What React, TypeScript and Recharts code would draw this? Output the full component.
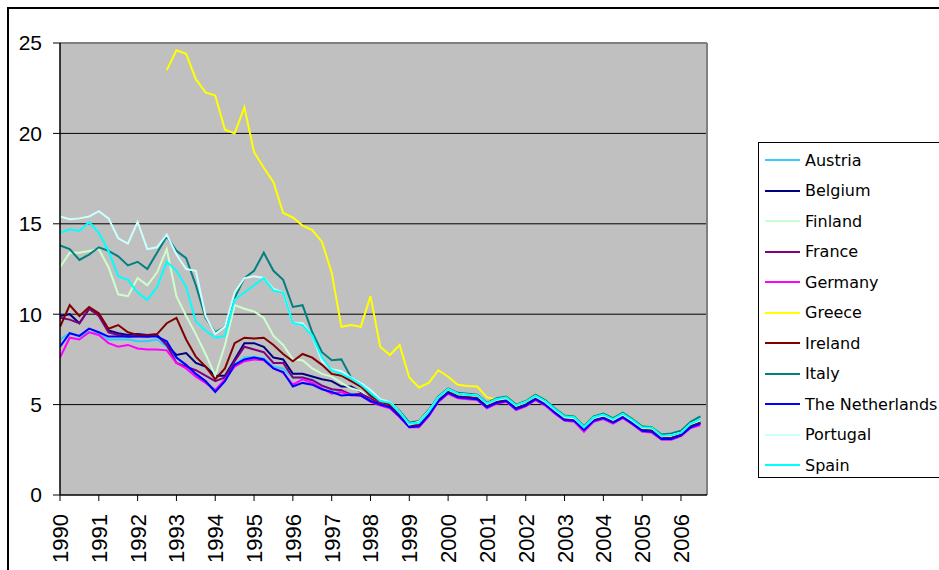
import { LineChart, Line, XAxis, YAxis, CartesianGrid, ReferenceLine } from "recharts";

// 10-year government bond yields, quarterly readings (1990 Q1 .. 2006 Q3)
const austria = [8.6, 8.95, 8.76, 9.0, 8.95, 8.6, 8.6, 8.6, 8.5, 8.5, 8.6, 8.2, 7.6, 7.1, 6.7, 6.3, 5.8, 6.3, 7.2, 7.6, 7.65, 7.55, 7.1, 7.0, 6.5, 6.5, 6.4, 6.05, 5.85, 5.7, 5.6, 5.5, 5.3, 5.05, 4.9, 4.4, 3.85,
  3.9, 4.5, 5.3, 5.75, 5.5, 5.45, 5.4, 4.95, 5.2, 5.3, 4.85, 5.05, 5.4, 5.1, 4.65, 4.25, 4.2, 3.65, 4.2, 4.35, 4.1, 4.4, 4.05, 3.65, 3.6, 3.2, 3.2, 3.35, 3.85, 4.05];
const belgium = [9.9, 10.0, 9.5, 10.3, 9.95, 9.1, 8.95, 8.85, 8.9, 8.85, 8.85, 8.3, 7.75, 7.85, 7.3, 7.1, 6.6, 6.6, 7.5, 8.4, 8.4, 8.2, 7.6, 7.5, 6.7, 6.7, 6.55, 6.4, 6.3, 6.0, 6.0, 5.7, 5.4, 5.1, 4.95, 4.45, 3.85,
  3.95, 4.55, 5.35, 5.8, 5.55, 5.5, 5.45, 5.0, 5.25, 5.35, 4.9, 5.1, 5.45, 5.15, 4.7, 4.3, 4.25, 3.7, 4.25, 4.4, 4.15, 4.45, 4.1, 3.7, 3.65, 3.2, 3.25, 3.4, 3.9, 4.1];
const finland = [12.6, 13.4, 13.4, 13.5, 13.6, 12.6, 11.1, 11.0, 12.0, 11.6, 12.3, 13.6, 11.0, 9.9, 8.9, 7.8, 6.6, 8.3, 10.5, 10.3, 10.15, 9.8, 8.8, 8.3, 7.5, 7.45, 7.0, 6.7, 6.55, 6.2, 5.9, 5.75, 5.35, 5.1, 5.0, 4.5, 3.9,
  3.95, 4.55, 5.3, 5.75, 5.5, 5.45, 5.4, 4.95, 5.2, 5.3, 4.85, 5.1, 5.4, 5.1, 4.65, 4.25, 4.2, 3.7, 4.2, 4.35, 4.1, 4.4, 4.05, 3.65, 3.6, 3.2, 3.25, 3.4, 3.85, 4.05];
const france = [9.8, 9.7, 9.5, 10.3, 9.9, 9.0, 8.85, 8.75, 8.8, 8.75, 8.85, 8.3, 7.3, 7.1, 6.9, 6.6, 6.3, 6.5, 7.4, 8.2, 8.05, 7.9, 7.3, 7.3, 6.5, 6.5, 6.35, 6.05, 5.85, 5.8, 5.55, 5.6, 5.35, 5.05, 4.9, 4.4, 3.85,
  3.85, 4.45, 5.25, 5.7, 5.45, 5.4, 5.35, 4.9, 5.15, 5.25, 4.8, 5.0, 5.35, 5.05, 4.6, 4.2, 4.15, 3.6, 4.15, 4.3, 4.05, 4.35, 4.0, 3.6, 3.55, 3.15, 3.15, 3.35, 3.8, 4.0];
const germany = [7.6, 8.7, 8.6, 9.0, 8.85, 8.4, 8.2, 8.3, 8.1, 8.05, 8.05, 8.0, 7.3, 7.0, 6.55, 6.2, 5.8, 6.4, 7.1, 7.4, 7.5, 7.45, 7.0, 6.75, 6.1, 6.4, 6.2, 5.9, 5.6, 5.7, 5.5, 5.5, 5.15, 4.95, 4.8, 4.3, 3.75,
  3.75, 4.35, 5.15, 5.6, 5.35, 5.3, 5.25, 4.8, 5.05, 5.15, 4.7, 4.9, 5.25, 4.95, 4.5, 4.1, 4.05, 3.5, 4.05, 4.2, 3.95, 4.25, 3.9, 3.5, 3.45, 3.05, 3.05, 3.25, 3.7, 3.85];
const greece = [null, null, null, null, null, null, null, null, null, null, null, 23.5, 24.6, 24.4, 23.0, 22.27, 22.1, 20.2, 20.0, 21.44, 18.97, 18.1, 17.3, 15.6, 15.35, 14.9, 14.65, 14.0, 12.3, 9.3, 9.4, 9.3, 11.0, 8.2, 7.74, 8.3, 6.5,
  5.95, 6.2, 6.9, 6.54, 6.1, 6.03, 6.0, 5.4, 5.3, 5.45, 5.0, 5.2, 5.55, 5.25, 4.8, 4.4, 4.35, 3.8, 4.35, 4.5, 4.25, 4.55, 4.2, 3.8, 3.75, 3.3, 3.35, 3.55, 4.0, 4.2];
const ireland = [9.3, 10.5, 9.9, 10.4, 10.05, 9.2, 9.4, 9.0, 8.85, 8.85, 8.9, 9.5, 9.8, 8.6, 7.65, 7.1, 6.4, 7.0, 8.4, 8.7, 8.65, 8.7, 8.3, 7.8, 7.4, 7.8, 7.6, 7.2, 6.7, 6.6, 6.3, 6.0, 5.5, 5.15, 5.0, 4.45, 3.85,
  3.85, 4.45, 5.25, 5.7, 5.45, 5.4, 5.35, 4.9, 5.1, 5.25, 4.8, 5.0, 5.4, 5.1, 4.65, 4.2, 4.15, 3.6, 4.15, 4.3, 4.05, 4.35, 3.95, 3.6, 3.55, 3.1, 3.15, 3.3, 3.8, 4.0];
const italy = [13.8, 13.6, 13.0, 13.3, 13.7, 13.5, 13.2, 12.7, 12.9, 12.5, 13.4, 14.3, 13.5, 13.1, 11.6, 9.8, 9.0, 9.3, 10.9, 12.0, 12.4, 13.4, 12.4, 11.9, 10.4, 10.5, 9.0, 7.9, 7.45, 7.5, 6.5, 6.2, 5.6, 5.25, 5.15, 4.65, 4.0,
  4.1, 4.7, 5.45, 5.9, 5.65, 5.6, 5.55, 5.1, 5.35, 5.45, 5.0, 5.2, 5.55, 5.25, 4.8, 4.4, 4.35, 3.8, 4.35, 4.5, 4.25, 4.55, 4.2, 3.8, 3.75, 3.35, 3.4, 3.55, 4.05, 4.35];
const netherlands = [8.2, 8.95, 8.8, 9.2, 9.0, 8.76, 8.76, 8.76, 8.76, 8.76, 8.76, 8.5, 7.6, 7.2, 6.7, 6.3, 5.7, 6.3, 7.2, 7.5, 7.6, 7.5, 7.0, 6.8, 6.0, 6.2, 6.1, 5.85, 5.7, 5.5, 5.55, 5.5, 5.2, 5.0, 4.85, 4.35, 3.75,
  3.8, 4.4, 5.2, 5.65, 5.4, 5.35, 5.3, 4.85, 5.1, 5.2, 4.75, 4.95, 5.3, 5.0, 4.55, 4.15, 4.1, 3.6, 4.1, 4.25, 4.0, 4.3, 3.95, 3.55, 3.5, 3.1, 3.1, 3.3, 3.75, 3.95];
const portugal = [15.4, 15.25, 15.3, 15.4, 15.7, 15.3, 14.2, 13.9, 15.1, 13.6, 13.7, 14.4, 13.3, 12.5, 12.4, 9.9, 8.9, 9.3, 11.2, 12.0, 12.1, 12.0, 11.4, 11.2, 9.5, 9.5, 8.8, 7.4, 6.95, 6.85, 6.5, 6.2, 5.8, 5.3, 5.15, 4.6, 3.9,
  4.05, 4.65, 5.4, 5.85, 5.6, 5.55, 5.5, 5.05, 5.3, 5.35, 4.95, 5.15, 5.45, 5.15, 4.7, 4.3, 4.25, 3.75, 4.25, 4.4, 4.15, 4.45, 4.1, 3.7, 3.7, 3.25, 3.3, 3.45, 3.95, 4.15];
const spain = [14.5, 14.7, 14.6, 15.1, 14.5, 13.5, 12.1, 11.9, 11.2, 10.8, 11.5, 12.9, 12.4, 11.5, 9.6, 9.1, 8.7, 8.8, 10.8, 11.2, 11.6, 12.0, 11.3, 11.2, 9.5, 9.4, 8.8, 7.6, 6.9, 6.7, 6.45, 6.1, 5.65, 5.2, 5.1, 4.55, 3.95,
  4.0, 4.6, 5.4, 5.85, 5.6, 5.55, 5.5, 5.05, 5.3, 5.4, 4.95, 5.15, 5.5, 5.2, 4.75, 4.35, 4.3, 3.75, 4.3, 4.45, 4.2, 4.5, 4.15, 3.75, 3.72, 3.28, 3.3, 3.45, 3.95, 4.2];

const YEARS = [1990, 1991, 1992, 1993, 1994, 1995, 1996, 1997, 1998, 1999, 2000, 2001, 2002, 2003, 2004, 2005, 2006];
const Y_TICKS = [0, 5, 10, 15, 20, 25];

const SERIES = [
  { key: "austria", name: "Austria", color: "#33CCFF", values: austria },
  { key: "belgium", name: "Belgium", color: "#000080", values: belgium },
  { key: "finland", name: "Finland", color: "#CCFFCC", values: finland },
  { key: "france", name: "France", color: "#800080", values: france },
  { key: "germany", name: "Germany", color: "#FF00FF", values: germany },
  { key: "greece", name: "Greece", color: "#FFFF00", values: greece },
  { key: "ireland", name: "Ireland", color: "#800000", values: ireland },
  { key: "italy", name: "Italy", color: "#008080", values: italy },
  { key: "netherlands", name: "The Netherlands", color: "#0000FF", values: netherlands },
  { key: "portugal", name: "Portugal", color: "#CCFFFF", values: portugal },
  { key: "spain", name: "Spain", color: "#00FFFF", values: spain },
];

const data = austria.map((_, i) => {
  const row: Record<string, number | null> = { t: 1990 + i / 4 };
  SERIES.forEach((s) => {
    row[s.key] = s.values[i];
  });
  return row;
});

const AXIS_FONT = "'Liberation Sans', Arial, sans-serif";

function YearTick(props: any) {
  const { x, y, payload } = props;
  return (
    <g transform={`translate(${x + 8},${y})`}>
      <text transform="rotate(-90)" textAnchor="end" fontSize={22} fontFamily={AXIS_FONT} fill="#000">
        {payload.value}
      </text>
    </g>
  );
}

function ChartLegend() {
  return (
    <div
      style={{
        position: "absolute",
        left: 758,
        top: 142,
        width: 200,
        height: 334,
        border: "1px solid #000",
        background: "#fff",
        fontFamily: "'DejaVu Sans', Verdana, sans-serif",
        fontSize: 16,
      }}
    >
      {SERIES.map((s, k) => (
        <div
          key={s.key}
          style={{ position: "absolute", left: 6, top: 6 + k * 30.5, height: 22, display: "flex", alignItems: "center" }}
        >
          <div style={{ width: 35, height: 2, background: s.color }} />
          <span style={{ marginLeft: 5, whiteSpace: "nowrap", color: "#000" }}>{s.name}</span>
        </div>
      ))}
    </div>
  );
}

export default function App() {
  return (
    <div style={{ position: "absolute", left: 0, top: 0, width: 939, height: 570, overflow: "hidden", background: "#fff" }}>
      <div
        style={{
          position: "absolute",
          left: 7,
          top: 7,
          width: 1000,
          height: 700,
          borderLeft: "2px solid #000",
          borderTop: "2px solid #000",
        }}
      />
      <div style={{ position: "absolute", left: 0, top: 0 }}>
        <LineChart width={939} height={570} data={data} margin={{ top: 43, right: 232, bottom: 0, left: 10 }}>
          <CartesianGrid fill="#C0C0C0" stroke="#000" strokeOpacity={1} vertical={false} horizontalValues={[5, 10, 15, 20]} />
          <ReferenceLine y={25} stroke="#808080" strokeWidth={2} />
          <ReferenceLine x={2006.67} stroke="#808080" strokeWidth={2} />
          <XAxis
            dataKey="t"
            type="number"
            domain={[1990, 2006.67]}
            ticks={YEARS}
            interval={0}
            height={75}
            tickSize={6}
            tickMargin={13}
            tick={<YearTick />}
            axisLine={{ stroke: "#000", strokeWidth: 1.5 }}
            tickLine={{ stroke: "#000" }}
            allowDataOverflow
          />
          <YAxis
            type="number"
            domain={[0, 25]}
            ticks={Y_TICKS}
            interval={0}
            width={50}
            tickSize={7}
            tickMargin={11}
            tick={{ fontSize: 21, fontFamily: AXIS_FONT, fill: "#000" }}
            axisLine={{ stroke: "#000", strokeWidth: 1.5 }}
            tickLine={{ stroke: "#000" }}
          />
          {SERIES.map((s) => (
            <Line
              key={s.key}
              dataKey={s.key}
              name={s.name}
              type="linear"
              stroke={s.color}
              strokeWidth={2}
              dot={false}
              activeDot={false}
              isAnimationActive={false}
            />
          ))}
        </LineChart>
      </div>
      <ChartLegend />
    </div>
  );
}
